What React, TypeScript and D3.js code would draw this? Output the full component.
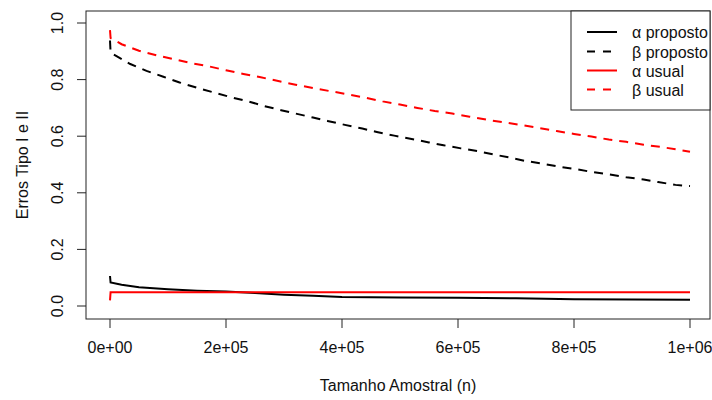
import React from "react";
import * as d3 from "d3";

// Sample sizes (n) and error rates for each series
const nBetaUsual = [10, 1000, 20000, 50000, 80000, 110000, 140000, 170000, 200000, 230000, 260000, 290000, 320000, 350000, 380000, 410000, 440000, 470000, 500000, 530000, 560000, 590000, 620000, 650000, 680000, 710000, 740000, 770000, 800000, 830000, 860000, 890000, 920000, 950000, 980000, 1000000];
const betaUsual = [0.975, 0.947, 0.925, 0.902, 0.886, 0.872, 0.858, 0.847, 0.833, 0.82, 0.808, 0.795, 0.782, 0.77, 0.759, 0.748, 0.736, 0.723, 0.712, 0.7, 0.689, 0.68, 0.669, 0.658, 0.649, 0.639, 0.629, 0.618, 0.608, 0.599, 0.588, 0.58, 0.57, 0.562, 0.552, 0.545];

const nBetaProposto = [10, 1000, 12000, 35000, 63000, 92000, 120000, 150000, 180000, 210000, 240000, 265000, 295000, 320000, 350000, 375000, 405000, 435000, 460000, 490000, 520000, 550000, 575000, 605000, 635000, 660000, 690000, 715000, 745000, 775000, 805000, 830000, 860000, 890000, 920000, 945000, 975000, 1000000];
const betaProposto = [0.938, 0.895, 0.882, 0.855, 0.831, 0.81, 0.79, 0.771, 0.754, 0.737, 0.722, 0.707, 0.692, 0.68, 0.666, 0.654, 0.64, 0.627, 0.615, 0.602, 0.59, 0.578, 0.568, 0.557, 0.547, 0.536, 0.524, 0.513, 0.503, 0.492, 0.483, 0.474, 0.465, 0.455, 0.447, 0.438, 0.428, 0.424];

const nAlphaProposto = [10, 1000, 20000, 50000, 100000, 150000, 200000, 250000, 300000, 350000, 400000, 500000, 600000, 700000, 800000, 900000, 1000000];
const alphaProposto = [0.106, 0.083, 0.075, 0.066, 0.059, 0.054, 0.051, 0.046, 0.04, 0.036, 0.032, 0.03, 0.029, 0.027, 0.024, 0.023, 0.022];

const nAlphaUsual = [10, 1000, 250000, 500000, 750000, 1000000];
const alphaUsual = [0.02, 0.049, 0.049, 0.049, 0.049, 0.049];

const xTicks = [0, 200000, 400000, 600000, 800000, 1000000];
const xTickLabels = ["0e+00", "2e+05", "4e+05", "6e+05", "8e+05", "1e+06"];
const yTicks = [0, 0.2, 0.4, 0.6, 0.8, 1.0];
const yTickLabels = ["0.0", "0.2", "0.4", "0.6", "0.8", "1.0"];

const legendLabels = ["α proposto", "β proposto", "α usual", "β usual"];

const FONT = "'Liberation Sans', Arial, sans-serif";

export default function App() {
  const W = 712;
  const H = 400;
  const box = { left: 86, right: 710, top: 11, bottom: 319 };

  const x = d3.scaleLinear().domain([0, 1000000]).range([110, 690]);
  const y = d3.scaleLinear().domain([0, 1]).range([306, 23]);

  const line = d3
    .line<[number, number]>()
    .x((d) => x(d[0]))
    .y((d) => y(d[1]));

  const zip = (ns: number[], vs: number[]) =>
    ns.map((n, i) => [n, vs[i]] as [number, number]);

  const series = [
    { data: zip(nAlphaProposto, alphaProposto), color: "#000000", dash: null },
    { data: zip(nBetaProposto, betaProposto), color: "#000000", dash: "9,7" },
    { data: zip(nAlphaUsual, alphaUsual), color: "#FF0000", dash: null },
    { data: zip(nBetaUsual, betaUsual), color: "#FF0000", dash: "9,7" },
  ];

  const tickLen = 9;
  const legend = { left: 571, right: box.right, top: box.top, bottom: 110 };
  const rowY = [32, 51.5, 70.5, 89.5];

  return (
    <svg
      width={W}
      height={H}
      style={{ position: "absolute", left: 0, top: 0, background: "#fff" }}
      fontFamily={FONT}
    >
      <rect x={0} y={0} width={W} height={H} fill="#fff" />

      {series.map((s, i) => (
        <path
          key={i}
          d={line(s.data) || ""}
          fill="none"
          stroke={s.color}
          strokeWidth={2}
          strokeDasharray={s.dash || undefined}
        />
      ))}

      {/* plot frame */}
      <rect
        x={box.left}
        y={box.top}
        width={box.right - box.left}
        height={box.bottom - box.top}
        fill="none"
        stroke="#222"
        strokeWidth={1}
      />

      {/* x axis */}
      {xTicks.map((t, i) => (
        <g key={i}>
          <line
            x1={x(t)}
            x2={x(t)}
            y1={box.bottom}
            y2={box.bottom + tickLen}
            stroke="#222"
            strokeWidth={1}
          />
          <text
            x={x(t)}
            y={353}
            textAnchor="middle"
            fontSize={16}
            fill="#111"
          >
            {xTickLabels[i]}
          </text>
        </g>
      ))}
      <text x={(box.left + box.right) / 2} y={391} textAnchor="middle" fontSize={16} fill="#111">
        Tamanho Amostral (n)
      </text>

      {/* y axis */}
      {yTicks.map((t, i) => (
        <g key={i}>
          <line
            x1={box.left - tickLen}
            x2={box.left}
            y1={y(t)}
            y2={y(t)}
            stroke="#222"
            strokeWidth={1}
          />
          <text
            transform={`translate(${63},${y(t)}) rotate(-90)`}
            textAnchor="middle"
            fontSize={16}
            fill="#111"
          >
            {yTickLabels[i]}
          </text>
        </g>
      ))}
      <text
        transform={`translate(${28},${(box.top + box.bottom) / 2}) rotate(-90)`}
        textAnchor="middle"
        fontSize={16}
        fill="#111"
      >
        Erros Tipo I e II
      </text>

      {/* legend */}
      <rect
        x={legend.left}
        y={legend.top}
        width={legend.right - legend.left}
        height={legend.bottom - legend.top}
        fill="#fff"
        stroke="#222"
        strokeWidth={1}
      />
      {legendLabels.map((lab, i) => (
        <g key={i}>
          <line
            x1={587}
            x2={617}
            y1={rowY[i]}
            y2={rowY[i]}
            stroke={series[i].color}
            strokeWidth={2}
            strokeDasharray={series[i].dash ? "8,8" : undefined}
          />
          <text x={632} y={rowY[i] + 6} fontSize={16} fill="#111">
            {lab}
          </text>
        </g>
      ))}
    </svg>
  );
}
